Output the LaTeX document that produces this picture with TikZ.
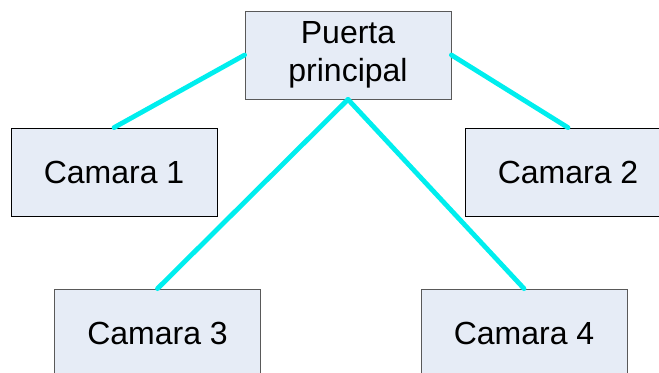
\documentclass[tikz,border=0pt]{standalone}
\usepackage{fontspec}
\setmainfont{Liberation Sans}
\usepackage{xcolor}
\usetikzlibrary{positioning}

\definecolor{boxfill}{RGB}{230,236,246}
\definecolor{linkcyan}{RGB}{0,238,238}

\begin{document}
\begin{tikzpicture}[x=0.75pt, y=-0.75pt,
    cam/.style={draw=black, fill=boxfill, line width=0.6pt, minimum width=154.5pt,
      minimum height=66pt, inner sep=0pt, align=center,
      font=\fontsize{24}{28.5}\selectfont},
    camgray/.style={cam, draw=black!65},
    link/.style={linkcyan, line width=3.6pt, line cap=round}]
  \useasboundingbox (0,0) rectangle (659,372);
  \clip (0,0) rectangle (659,372);
  \node[camgray] (puerta) at (348,55)   {Puerta\\principal};
  \node[cam]     (cam1)   at (114,172)  {Camara 1};
  \node[cam]     (cam2)   at (568,172)  {Camara 2};
  \node[camgray] (cam3)   at (157.5,333) {Camara 3};
  \node[camgray] (cam4)   at (524,333)  {Camara 4};
  \draw[link] (puerta.west) -- (cam1.north);
  \draw[link] (puerta.east) -- (cam2.north);
  \draw[link] (puerta.south) -- (cam3.north);
  \draw[link] (puerta.south) -- (cam4.north);
\end{tikzpicture}
\end{document}
